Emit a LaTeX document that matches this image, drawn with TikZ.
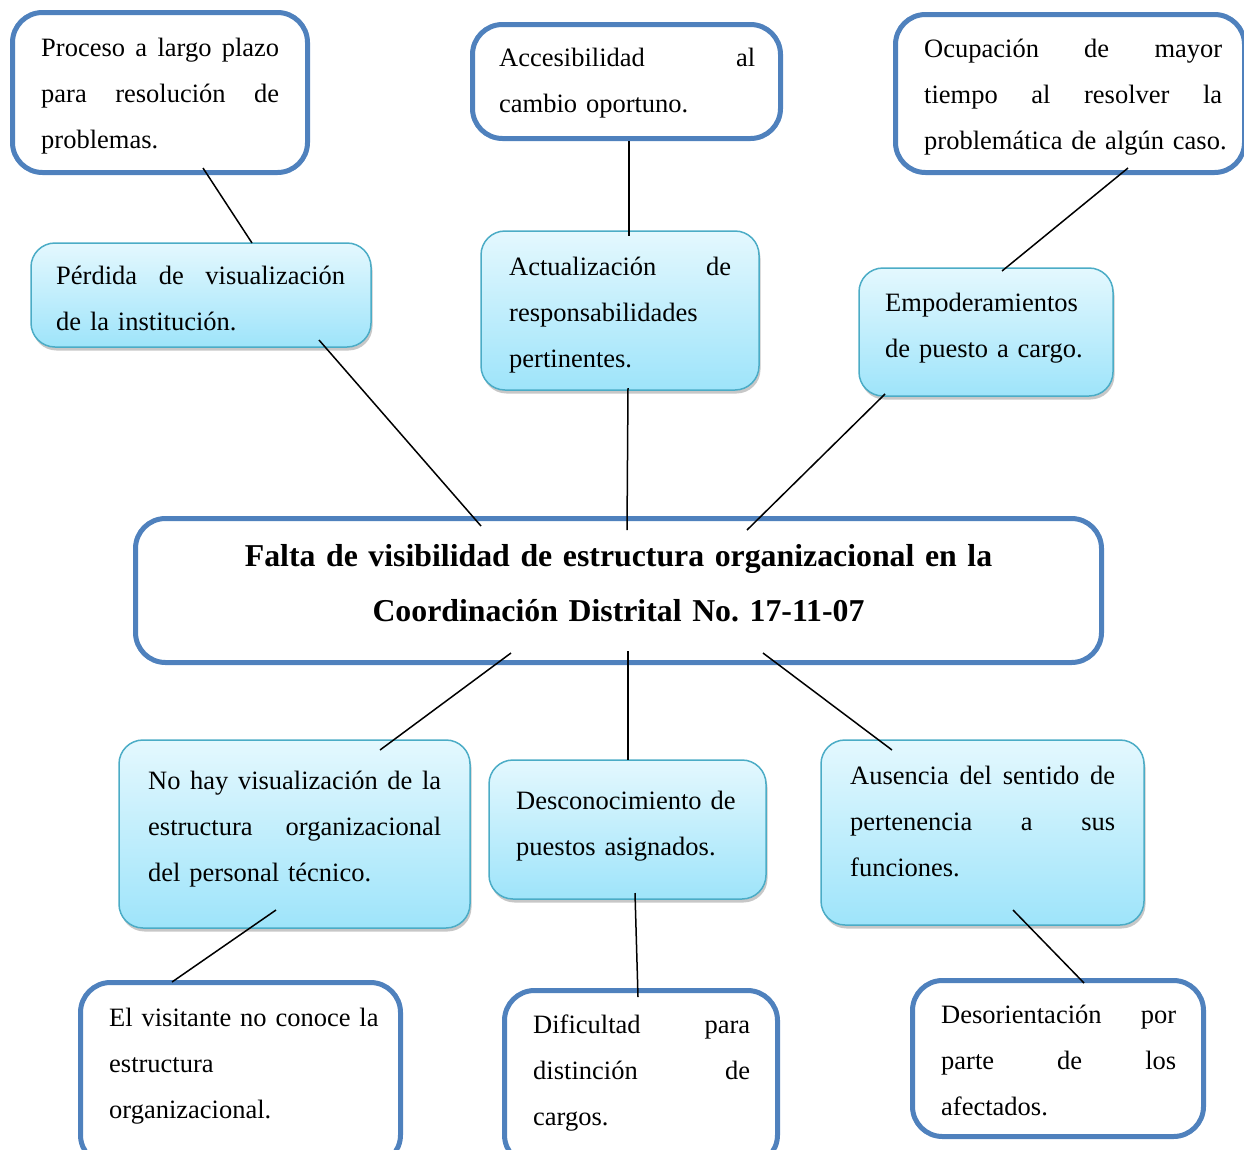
\documentclass[tikz,border=0pt]{standalone}
\usepackage{fontspec}
\setmainfont{Liberation Serif}
\usetikzlibrary{shadows}
\definecolor{bordblue}{RGB}{79,129,189}
\definecolor{bordteal}{RGB}{75,172,198}
\definecolor{gtop}{RGB}{228,248,254}
\definecolor{gbot}{RGB}{158,228,250}
\newcommand\jl[2]{\leavevmode\hbox to #1pt{#2}}
\newcommand\nl[1]{\mbox{#1}}
\newcommand\hf{\hfill}
\newcommand\bodyfont{\fontsize{26.5}{46}\selectfont\fontdimen2\font=4.8pt\relax}
\newcommand\titlefont{\fontsize{31.8}{55}\selectfont\bfseries\fontdimen2\font=6.2pt\relax}
\frenchspacing
\begin{document}
\begin{tikzpicture}[x=1pt,y=-1pt,
 wbox/.style={draw=bordblue, line width=5pt, rounded corners=30pt, fill=white, inner sep=0pt},
 gbox/.style={draw=bordteal, line width=1.5pt, rounded corners=24pt, top color=gtop, bottom color=gbot, inner sep=0pt,
   drop shadow={shadow xshift=1.5pt, shadow yshift=-3.5pt, opacity=0.22, fill=black}},
 txt/.style={anchor=base west, inner sep=0pt, align=left, text width=340pt, font=\bodyfont},
 ttl/.style={anchor=base, inner sep=0pt, align=center, text width=960pt, font=\titlefont},
 conn/.style={draw=black, line width=1.5pt}]
\useasboundingbox (0,0) rectangle (1244,1149);
\clip (0,0) rectangle (1244,1149);

% white boxes
\node[wbox, minimum width=295pt, minimum height=160pt] (b1) at (160,92.5) {};
\node[wbox, minimum width=308pt, minimum height=114pt] (b2) at (626.5,81.5) {};
\node[wbox, minimum width=349pt, minimum height=158pt] (b3) at (1070,93.5) {};
\node[wbox, minimum width=966pt, minimum height=144pt] (m) at (618.5,590.5) {};
\node[wbox, minimum width=320pt, minimum height=182.5pt] (b11) at (240.5,1073.75) {};
\node[wbox, minimum width=273pt, minimum height=174.5pt] (b12) at (641,1077.75) {};
\node[wbox, minimum width=291pt, minimum height=156pt] (b13) at (1058,1058.5) {};

% gradient boxes
\node[gbox, minimum width=340pt, minimum height=104pt] (b4) at (201,295) {};
\node[gbox, minimum width=278pt, minimum height=159pt] (b5) at (620,310.5) {};
\node[gbox, minimum width=254pt, minimum height=128pt] (b6) at (986,332) {};
\node[gbox, minimum width=351pt, minimum height=188pt] (b8) at (294.5,834) {};
\node[gbox, minimum width=277pt, minimum height=139pt] (b9) at (627.5,829.5) {};
\node[gbox, minimum width=323pt, minimum height=185pt] (b10) at (982.5,832.5) {};

% texts
\node[txt] (t1) at (41,56) {\jl{238}{Proceso\hf a\hf largo\hf plazo}\\\jl{238}{para\hf resolución\hf de}\\\nl{problemas.}};
\node[txt] (t2) at (499,66) {\jl{256}{Accesibilidad\hf al}\\\nl{cambio oportuno.}};
\node[txt] (t3) at (924,57) {\jl{298}{Ocupación\hf de\hf mayor}\\\jl{298}{tiempo\hf al\hf resolver\hf la}\\\nl{problemática de algún caso.}};
\node[txt] (t4) at (56,284) {\jl{289}{Pérdida\hf de\hf visualización}\\\nl{de la institución.}};
\node[txt] (t5) at (509,275) {\jl{222}{Actualización\hf de}\\\nl{responsabilidades}\\\nl{pertinentes.}};
\node[txt] (t6) at (885,311) {\nl{Empoderamientos}\\\nl{de puesto a cargo.}};
\node[ttl] (tm) at (618.5,566) {Falta de visibilidad de estructura organizacional en la\\Coordinación Distrital No. 17-11-07};
\node[txt] (t8) at (148,789) {\jl{293}{No\hf hay\hf visualización\hf de\hf la}\\\jl{293}{estructura\hf organizacional}\\\nl{del personal técnico.}};
\node[txt] (t9) at (516,809) {\nl{Desconocimiento de}\\\nl{puestos asignados.}};
\node[txt] (t10) at (850,784) {\jl{265}{Ausencia\hf del\hf sentido\hf de}\\\jl{265}{pertenencia\hf a\hf sus}\\\nl{funciones.}};
\node[txt] (t11) at (109,1026) {\nl{El visitante no conoce la}\\\nl{estructura}\\\nl{organizacional.}};
\node[txt] (t12) at (533,1033) {\jl{217}{Dificultad\hf para}\\\jl{217}{distinción\hf de}\\\nl{cargos.}};
\node[txt] (t13) at (941,1023) {\jl{235}{Desorientación\hf por}\\\jl{235}{parte\hf de\hf los}\\\nl{afectados.}};

% connectors
\draw[conn] ([shift={(43,75.5)}]b1.center) -- ([shift={(51,-52)}]b4.center);
\draw[conn] ([shift={(2.5,59.5)}]b2.center) -- ([shift={(9,-74.5)}]b5.center);
\draw[conn] ([shift={(58,74.5)}]b3.center) -- ([shift={(16,-61)}]b6.center);
\draw[conn] ([shift={(118,45)}]b4.center) -- ([shift={(-137.5,-64.5)}]m.center);
\draw[conn] ([shift={(8,77.5)}]b5.center) -- ([shift={(8.5,-60.5)}]m.center);
\draw[conn] ([shift={(-101,62)}]b6.center) -- ([shift={(128.5,-60.5)}]m.center);
\draw[conn] ([shift={(-107.5,62.5)}]m.center) -- ([shift={(85.5,-84)}]b8.center);
\draw[conn] ([shift={(9.5,60.5)}]m.center) -- ([shift={(0.5,-69.5)}]b9.center);
\draw[conn] ([shift={(144.5,62.5)}]m.center) -- ([shift={(-90.5,-82.5)}]b10.center);
\draw[conn] ([shift={(-18.5,76)}]b8.center) -- ([shift={(-68.5,-91.75)}]b11.center);
\draw[conn] ([shift={(7.5,63.5)}]b9.center) -- ([shift={(-3,-80.75)}]b12.center);
\draw[conn] ([shift={(30.5,77.5)}]b10.center) -- ([shift={(26,-75.5)}]b13.center);
\end{tikzpicture}
\end{document}
